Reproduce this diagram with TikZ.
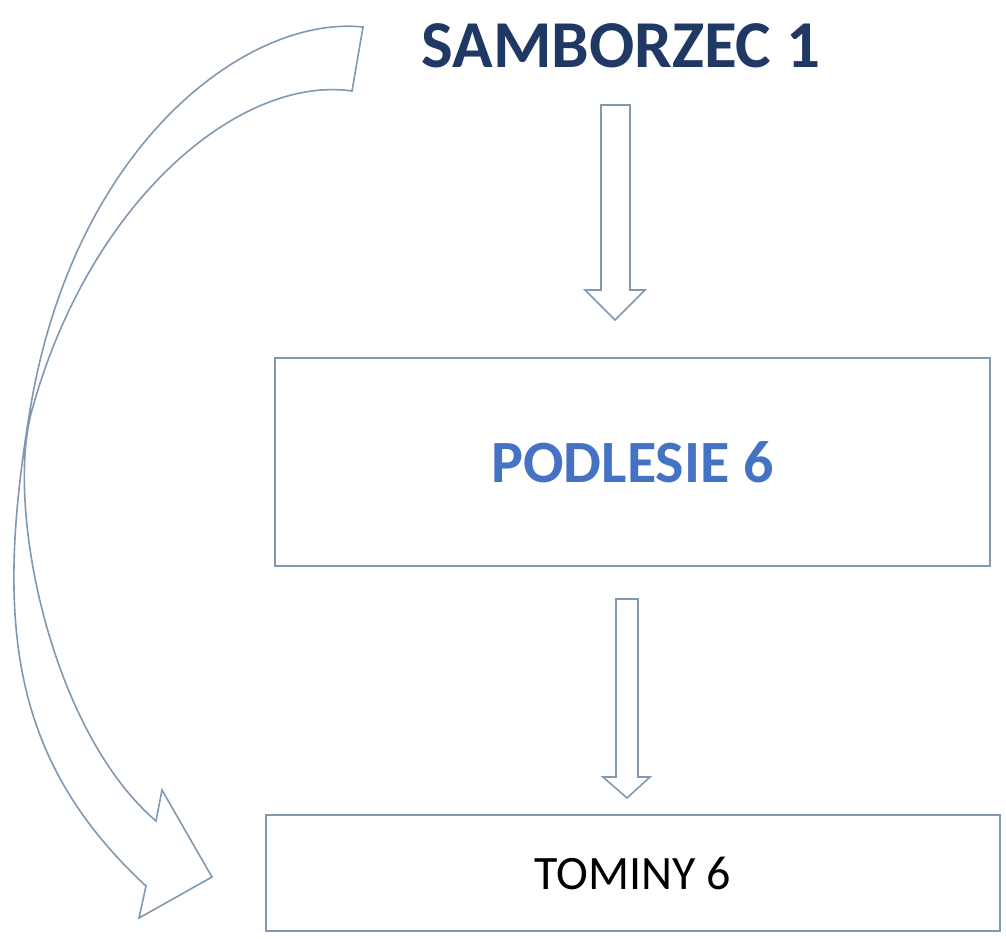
\documentclass[tikz,border=0pt]{standalone}
\usepackage{fontspec}
\setmainfont{Carlito}
\usepackage{xcolor}
\usepackage{tikz}
\definecolor{shapeline}{HTML}{8098B0}
\definecolor{titlenavy}{HTML}{203864}
\definecolor{townblue}{HTML}{4472C4}
\usetikzlibrary{positioning}

\begin{document}
\begin{tikzpicture}[x=0.5pt,y=-0.5pt,
  townbox/.style={draw=shapeline,line width=0.8pt,inner sep=0pt}]
\useasboundingbox (0,0) rectangle (1006,938);
% texts and boxes
\node[font=\fontsize{33.5}{38}\selectfont\bfseries,text=titlenavy,anchor=base] (samborzec) at (621,67) {SAMBORZEC 1};
\node[townbox,minimum width=357.5pt,minimum height=104pt,font=\fontsize{30}{34}\selectfont\bfseries,text=townblue] (podlesie) at (632.5,462) {PODLESIE 6};
\node[townbox,minimum width=367pt,minimum height=58pt,font=\fontsize{24}{28}\selectfont] (tominy) at (633,873) {TOMINY 6};
% block arrows
\draw[shapeline,line width=0.8pt] (601,105) -- (630,105) -- (630,290) -- (645,290) -- (615,320) -- (585,290) -- (601,290) -- cycle;
\draw[shapeline,line width=0.8pt] (616,599) -- (638,599) -- (638,777) -- (650,777) -- (627,798) -- (603,777) -- (616,777) -- cycle;
% curved arrow
\draw[shapeline,line width=0.8pt] (363,27) .. controls (250,15) and (75,140) .. (30,410)
  .. controls (-5,622) and (10,760) .. (146,886)
  -- (139,918) -- (212,877) -- (162,790) -- (156,821)
  .. controls (50,730) and (5,506) .. (32,410)
  .. controls (90,200) and (240,75) .. (352,91) -- cycle;
\end{tikzpicture}
\end{document}
